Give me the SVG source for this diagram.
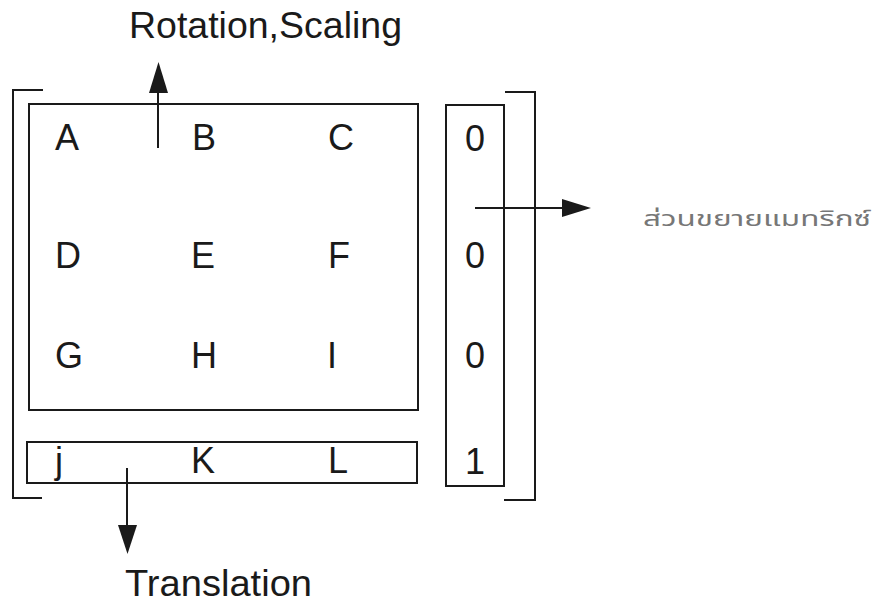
<svg xmlns="http://www.w3.org/2000/svg" width="885" height="605" viewBox="0 0 885 605">
<style>
.ln{fill:none;stroke:#1a1a1a;stroke-width:2}
.t{font-family:"Liberation Sans",Arial,sans-serif;font-size:36px;fill:#1a1a1a}
.th{font-family:"Noto Sans Thai","Noto Sans","DejaVu Sans",sans-serif;font-size:21px;fill:#777}
</style>
<rect width="885" height="605" fill="#fff"/>
<g id="bracket-left"><path class="ln" d="M43,90 H13 V498 H42"/></g>
<g id="bracket-right"><path class="ln" d="M505,92 H535 V500 H504"/></g>
<g id="box-rs">
<rect class="ln" x="29" y="104" width="389" height="306"/>
<text class="t" x="55" y="150">A</text>
<text class="t" x="192" y="150">B</text>
<text class="t" x="328" y="150">C</text>
<text class="t" x="55" y="268">D</text>
<text class="t" x="191" y="268">E</text>
<text class="t" x="328" y="268">F</text>
<text class="t" x="55" y="368">G</text>
<text class="t" x="191" y="368">H</text>
<text class="t" x="327" y="368">I</text>
</g>
<g id="box-t">
<rect class="ln" x="27" y="442" width="390" height="41"/>
<text class="t" x="55" y="473">j</text>
<text class="t" x="191" y="473">K</text>
<text class="t" x="328" y="473">L</text>
</g>
<g id="box-col">
<rect class="ln" x="446" y="105" width="58" height="381"/>
<text class="t" x="465" y="151">0</text>
<text class="t" x="465" y="268">0</text>
<text class="t" x="465" y="368">0</text>
<text class="t" x="465" y="474">1</text>
</g>
<g id="connectors">
<line class="ln" x1="158" y1="148" x2="158" y2="92"/>
<path d="M149,93 L158.5,62 L168,93 Z" fill="#1a1a1a"/>
<line class="ln" x1="127" y1="468" x2="127" y2="527"/>
<path d="M118,525 L127.5,554 L137,525 Z" fill="#1a1a1a"/>
<line class="ln" x1="475" y1="208" x2="565" y2="208"/>
<path d="M562,199 L591,208 L562,217 Z" fill="#1a1a1a"/>
</g>
<g id="labels">
<text class="t" x="129" y="38" textLength="273" lengthAdjust="spacingAndGlyphs">Rotation,Scaling</text>
<text class="t" x="125" y="596" textLength="187" lengthAdjust="spacingAndGlyphs">Translation</text>
<text class="th" x="643" y="226" textLength="228" lengthAdjust="spacingAndGlyphs">ส่วนขยายแมทริกซ์</text>
</g>
</svg>
